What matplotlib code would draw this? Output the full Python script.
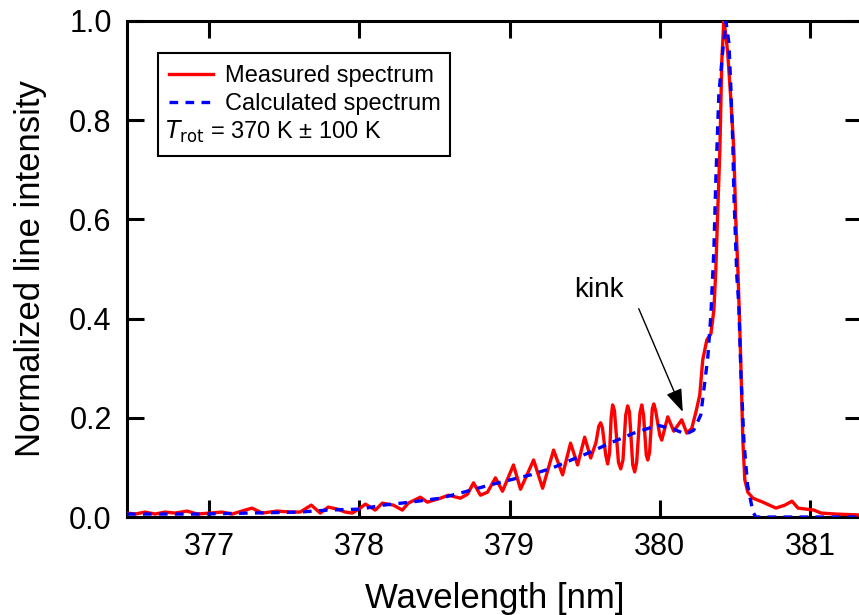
import matplotlib
matplotlib.use("Agg")
from matplotlib import pyplot as plt
from matplotlib.patches import Rectangle

plt.rcParams['font.family'] = ['Liberation Sans', 'DejaVu Sans']

# measured spectrum (wavelength nm, normalized intensity)
meas_wl = [376.453, 376.507, 376.573, 376.640, 376.706, 376.773, 376.853, 376.920,
           377.006, 377.086, 377.153, 377.240, 377.286, 377.353, 377.453, 377.540,
           377.606, 377.680, 377.740, 377.793, 377.853, 377.906, 377.953, 378.006,
           378.040, 378.106, 378.153, 378.226, 378.286, 378.326, 378.406, 378.453,
           378.540, 378.593, 378.673, 378.720, 378.760, 378.806, 378.853, 378.906,
           378.953, 379.026, 379.073, 379.160, 379.220, 379.293, 379.353, 379.406,
           379.453, 379.500, 379.540, 379.575, 379.594, 379.606, 379.618, 379.640,
           379.653, 379.666, 379.676, 379.686, 379.698, 379.725, 379.740, 379.755,
           379.773, 379.786, 379.798, 379.820, 379.833, 379.846, 379.868, 379.880,
           379.892, 379.910, 379.920, 379.932, 379.950, 379.960, 379.972, 380.000,
           380.013, 380.053, 380.093, 380.146,
           380.180, 380.213, 380.240, 380.266, 380.286, 380.313, 380.340, 380.360,
           380.373, 380.386, 380.400, 380.413, 380.426, 380.440, 380.453, 380.473,
           380.493, 380.506, 380.520, 380.533, 380.546, 380.553, 380.566, 380.586,
           380.620, 380.686, 380.773, 380.833, 380.880, 380.920, 381.026, 381.073,
           381.173, 381.340]
meas_int = [0.008, 0.006, 0.010, 0.006, 0.010, 0.008, 0.012, 0.006,
            0.008, 0.010, 0.006, 0.014, 0.018, 0.008, 0.012, 0.010,
            0.010, 0.024, 0.008, 0.020, 0.016, 0.010, 0.008, 0.018,
            0.026, 0.014, 0.028, 0.024, 0.014, 0.028, 0.040, 0.030,
            0.038, 0.044, 0.038, 0.046, 0.069, 0.044, 0.050, 0.079,
            0.052, 0.105, 0.056, 0.115, 0.058, 0.135, 0.085, 0.149,
            0.105, 0.161, 0.119, 0.150, 0.183, 0.190, 0.180, 0.125,
            0.107, 0.130, 0.200, 0.226, 0.215, 0.110, 0.097, 0.115,
            0.205, 0.224, 0.212, 0.105, 0.091, 0.110, 0.210, 0.226,
            0.205, 0.125, 0.115, 0.130, 0.218, 0.228, 0.215, 0.165,
            0.155, 0.202, 0.173, 0.196,
            0.169, 0.179, 0.211, 0.246, 0.317, 0.357, 0.369, 0.417,
            0.498, 0.619, 0.740, 0.921, 1.000, 0.972, 0.932, 0.841,
            0.740, 0.599, 0.498, 0.377, 0.236, 0.153, 0.075, 0.050,
            0.038, 0.030, 0.018, 0.024, 0.032, 0.018, 0.014, 0.008,
            0.006, 0.004]

# calculated spectrum
calc_wl = [376.453, 376.673, 376.940, 377.273, 377.606, 377.786, 378.006, 378.160,
           378.340, 378.540, 378.693, 378.873, 379.006, 379.140, 379.286, 379.426,
           379.540, 379.653, 379.826, 379.986, 380.093, 380.173, 380.226, 380.273,
           380.293, 380.320, 380.340, 380.360, 380.373, 380.393, 380.420, 380.440,
           380.460, 380.473, 380.486, 380.493, 380.513, 380.526, 380.540, 380.560,
           380.584, 380.620, 380.640, 381.340]
calc_int = [0.006, 0.006, 0.006, 0.008, 0.010, 0.014, 0.016, 0.024,
            0.030, 0.038, 0.050, 0.065, 0.075, 0.085, 0.099, 0.117,
            0.131, 0.147, 0.169, 0.185, 0.177, 0.167, 0.175, 0.206,
            0.256, 0.323, 0.407, 0.538, 0.679, 0.851, 0.942, 1.000,
            0.956, 0.867, 0.754, 0.653, 0.484, 0.427, 0.290, 0.153,
            0.065, 0.010, 0.000, 0.000]

xticks = [377, 378, 379, 380, 381]
yticks = [0.0, 0.2, 0.4, 0.6, 0.8, 1.0]

fig = plt.figure(figsize=(8.59, 6.15), dpi=100)
ax = fig.add_axes([0.1478, 0.1593, 0.8555, 0.8066])

ax.plot(meas_wl, meas_int, color='#ff0000', lw=2.4, label='Measured spectrum',
        zorder=3, solid_joinstyle='round')
ax.plot(calc_wl, calc_int, color='#0000ff', lw=2.4, linestyle=(0, (2.6, 2.2)),
        label='Calculated spectrum', zorder=4)

ax.set_xlim(376.453, 381.345)
ax.set_ylim(0.0, 1.0)
ax.set_xticks(xticks)
ax.set_yticks(yticks)
ax.set_yticklabels(['%.1f' % v for v in yticks])
ax.tick_params(direction='in', length=12, width=2.2, labelsize=22,
               top=True, right=True, pad=11)
for s in ax.spines.values():
    s.set_linewidth(2.2)

ax.set_xlabel('Wavelength [nm]', fontsize=25, labelpad=14)
ax.set_ylabel('Normalized line intensity', fontsize=25, labelpad=16)

# legend box with the T_rot line
leg = ax.legend(loc='upper left', bbox_to_anchor=(0.045, 0.93), frameon=False,
                fontsize=17, handlelength=1.86, handletextpad=0.5,
                borderaxespad=0, labelspacing=0.25)
ax.text(0.052, 0.777, r'$T_{\mathrm{rot}}$ = 370 K ± 100 K', transform=ax.transAxes,
        fontsize=17, va='center', ha='left')
ax.add_patch(Rectangle((0.0422, 0.728), 0.398, 0.2075, transform=ax.transAxes,
                       fill=False, edgecolor='black', lw=1.5, zorder=5))

# kink annotation
ax.text(379.593, 0.458, 'kink', fontsize=20, ha='center', va='center')
ax.annotate('', xy=(380.153, 0.212), xytext=(379.86, 0.42),
            arrowprops=dict(arrowstyle='-|>,head_length=1.4,head_width=0.5',
                            color='black', lw=1.0, shrinkA=0, shrinkB=0))

fig.savefig('out.png', dpi=100)
